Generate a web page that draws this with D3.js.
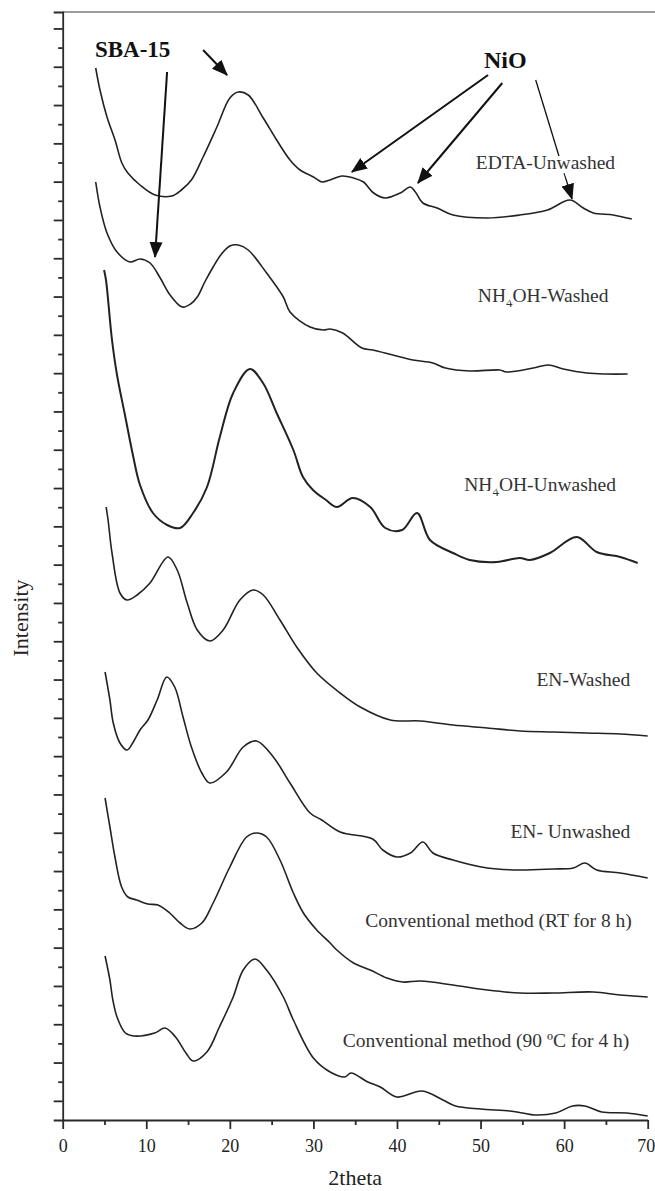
<!DOCTYPE html>
<meta charset="utf-8">
<style>

    body { margin: 0; background: #fff; }

    svg text {
        font-family: "Liberation Serif", "Times New Roman", serif;
        fill: #222;
    }

    .curves path {
        fill: none;
        stroke: #222;
        stroke-width: 1.6px;
        stroke-linejoin: round;
    }

    .axis path, .axis line {
        stroke: #2a2a2a;
        stroke-width: 1.8px;
    }

    .axis text { font-size: 18px; }

    .labels text {
        font-size: 19.5px;
        fill: #333;
        paint-order: stroke;
        stroke: #fff;
        stroke-width: 8px;
    }

    .notes line { stroke: #111; stroke-width: 2px; }
    .notes text { font-size: 23px; font-weight: bold; fill: #111; }

</style>
<svg width="655" height="1191"></svg>
<script src="https://cdn.jsdelivr.net/npm/d3@7"></script>
<script>

    // 2theta (deg) vs stacked intensity (a.u.)
    var edtaUnwashed = [[3.95,1052],[4.46,1030],[5.3,1003],[6.26,980],[7.08,957],[7.8,947],[9.25,935],
        [11.05,925],[13.05,924],[14.2,930],[15.4,940],[16.8,963],[18.45,993],[20.0,1022],[21.0,1028],
        [22.2,1025],[24.0,1002],[25.6,980],[27.2,960],[28.4,950],[30.0,943],[31.0,938],[32.0,940],
        [33.4,944],[34.8,942],[36.0,938],[37.2,927],[38.6,922],[40.4,927],[41.6,933],[42.2,928],
        [43.1,917],[44.8,912],[46.7,905],[50.8,902],[54.7,905],[58.0,910],[60.7,920],[62.3,912],
        [63.5,907],[65.9,905],[68.1,901]];

    var nh4ohWashed = [[3.95,938],[4.46,913],[5.3,887],[6.5,868],[8.05,858],[9.25,861],[10.45,857],
        [11.6,843],[12.85,825],[14.3,813],[15.3,816],[16.1,823],[17.0,838],[18.0,853],[19.0,866],
        [20.0,874],[21.0,875],[22.2,870],[24.4,847],[26.4,823],[27.2,808],[29.6,793],[31.2,790],
        [32.0,791],[33.5,787],[35.8,772],[37.1,770],[39.5,765],[41.9,760],[44.3,757],[45.8,752],
        [48.7,749],[52.3,750],[53.1,748],[56.3,752],[58.1,755],[59.9,751],[62.7,747],[65.1,746],
        [67.6,746]];

    var nh4ohUnwashed = [[4.95,850],[5.18,840],[5.9,780],[6.5,745],[7.45,705],[8.4,665],[9.25,635],
        [10.8,607],[12.5,595],[14.04,592],[15.6,607],[17.27,633],[18.8,683],[20.4,727],[22.4,751],
        [23.97,737],[25.6,707],[27.6,670],[28.75,643],[29.95,630],[31.5,620],[32.8,613],[34.7,622],
        [36.8,613],[38.6,592],[40.6,590],[42.4,607],[43.95,580],[46.7,567],[48.7,560],[51.95,558],
        [54.7,562],[55.9,560],[58.3,567],[61.5,583],[63.9,568],[66.7,563],[68.8,557]];

    var enWashed = [[5.2,613],[5.43,600],[5.9,567],[6.85,527],[7.7,520],[8.9,525],[10.45,537],
        [12.6,563],[13.7,550],[14.9,517],[16.1,490],[17.6,479],[19.2,490],[21.2,520],[22.8,530],
        [24.0,525],[26.0,500],[28.0,473],[30.4,447],[33.2,427],[35.6,413],[39.2,400],[42.8,399],
        [46.7,395],[50.8,392],[54.7,389],[58.7,388],[62.7,387],[66.7,386],[70.0,384]];

    var enUnwashed = [[5.07,448],[5.65,420],[6.05,397],[6.85,377],[7.7,370],[8.45,378],[9.25,390],
        [10.2,400],[11.3,420],[12.45,443],[13.4,433],[14.4,403],[15.4,373],[16.65,347],[17.6,337],
        [19.6,348],[21.6,373],[23.2,379],[25.2,363],[27.2,337],[29.6,307],[31.0,300],[33.2,288],
        [37.1,281],[38.3,270],[40.0,263],[41.6,267],[43.1,278],[44.3,267],[46.7,260],[50.8,252],
        [54.7,250],[58.7,251],[61.1,252],[62.5,257],[63.9,250],[66.7,247],[70.0,242]];

    var convRT = [[5.07,322],[5.65,293],[6.25,263],[7.05,233],[7.8,223],[8.85,220],[10.2,216],
        [11.4,215],[12.8,207],[14.05,197],[15.2,191],[16.65,197],[18.0,217],[20.0,253],[22.0,283],
        [23.2,287],[24.4,283],[26.0,260],[27.6,227],[28.8,207],[30.4,190],[32.0,177],[32.8,170],
        [34.8,157],[36.8,150],[38.8,142],[40.7,138],[42.8,139],[46.7,135],[50.8,130],[54.7,127],
        [58.7,127],[63.5,128],[66.7,125],[70.0,123]];

    var conv90 = [[5.07,164],[5.65,140],[6.0,120],[6.5,103],[7.5,87],[8.5,84],[11.0,87],[12.25,92],
        [13.5,83],[14.75,67],[15.6,59],[17.25,68],[18.75,93],[20.4,123],[21.6,150],[23.0,161],
        [24.4,150],[26.4,123],[27.6,100],[30.0,62],[32.0,48],[33.75,43],[34.5,47],[36.5,38],
        [38.0,33],[40.0,23],[43.0,29],[45.5,20],[47.0,14],[50.0,11],[53.5,9],[55.0,7],[56.5,5],
        [59.0,7],[61.0,14],[62.5,14],[64.5,8],[67.5,7],[70.0,4]];

    var seriesData = [edtaUnwashed, nh4ohWashed, nh4ohUnwashed, enWashed, enUnwashed, convRT, conv90];

    // label text, split as [before subscript, subscript, after]
    var seriesLabels = [
        ["EDTA-Unwashed", "", ""],
        ["NH", "4", "OH-Washed"],
        ["NH", "4", "OH-Unwashed"],
        ["EN-Washed", "", ""],
        ["EN- Unwashed", "", ""],
        ["Conventional method (RT for 8 h)", "", ""],
        ["Conventional method (90 \u00baC for 4 h)", "", ""]
    ];
    // right end of each label, in [2theta, intensity]
    var labelAnchors = [[66.1, 951], [65.3, 818], [66.2, 629], [67.9, 434], [67.9, 282], [68.1, 193], [67.8, 73]];

    // annotation arrows [from, to] in [2theta, intensity]
    var sbaArrows = [[[12.49, 1048], [11.05, 863]], [[16.8, 1070], [19.67, 1045]]];
    var nioArrows = [[[50.9, 1045], [34.6, 948]], [[52.6, 1037], [42.5, 937]], [[56.6, 1040], [60.95, 921]]];

    var xTicks = d3.range(0, 71, 5);
    var yTickStep = 19.15;

    var svg = d3.select("svg"),
        width = +svg.attr("width"),
        height = +svg.attr("height");

    var margin = {top: 12, left: 62.7, bottom: 71};

    var x = d3.scaleLinear().domain([0, 70]).range([margin.left, 647.7]);
    var y = d3.scaleLinear().domain([0, 1108]).range([height - margin.bottom, margin.top]);

    var defs = svg.append("defs");
    defs.append("marker")
        .attr("id", "head")
        .attr("viewBox", "0 -7 16 14")
        .attr("refX", 15)
        .attr("refY", 0)
        .attr("markerUnits", "userSpaceOnUse")
        .attr("markerWidth", 16)
        .attr("markerHeight", 14)
        .attr("orient", "auto")
        .append("path")
        .attr("d", "M0,-6.5L16,0L0,6.5Z")
        .style("fill", "#111");

    // top frame line
    svg.append("line")
        .attr("x1", x(0)).attr("x2", width)
        .attr("y1", y(1108)).attr("y2", y(1108))
        .style("stroke", "#7a7a7a")
        .style("stroke-width", "1.6px");

    // x axis
    var xAxis = svg.append("g")
        .attr("class", "axis")
        .attr("transform", "translate(0," + y(0) + ")")
        .call(d3.axisBottom(x)
            .tickValues(xTicks)
            .tickSize(9)
            .tickSizeOuter(0)
            .tickPadding(10)
            .tickFormat(function (d) { return d % 10 === 0 ? d : ""; }));
    xAxis.selectAll(".tick line")
        .attr("y2", function (d) { return d % 10 === 0 ? 9 : 5; });
    // last label sits against the page edge
    xAxis.selectAll(".tick text")
        .attr("x", function (d) { return d === 70 ? -2 : 0; });

    // y axis, unlabeled ticks
    var yVals = d3.range(1, 58).map(function (k) { return k * yTickStep; });
    var yAxis = svg.append("g")
        .attr("class", "axis")
        .attr("transform", "translate(" + x(0) + ",0)")
        .call(d3.axisLeft(y)
            .tickValues(yVals)
            .tickSizeOuter(0)
            .tickSize(9)
            .tickFormat(""));
    yAxis.selectAll(".tick line")
        .attr("x2", function (d, i) { return i % 2 === 0 ? -9 : -4.5; });

    // curves
    var line = d3.line()
        .x(function (d) { return x(d[0]); })
        .y(function (d) { return y(d[1]); })
        .curve(d3.curveCatmullRom.alpha(0.5));

    svg.append("g")
        .attr("class", "curves")
        .selectAll("path")
        .data(seriesData)
        .enter().append("path")
        .attr("d", line)
        .style("stroke-width", function (d, i) { return i === 2 ? "2px" : null; });

    // annotations
    var notes = svg.append("g").attr("class", "notes");

    notes.selectAll("line")
        .data(sbaArrows.concat(nioArrows))
        .enter().append("line")
        .attr("x1", function (d) { return x(d[0][0]); })
        .attr("y1", function (d) { return y(d[0][1]); })
        .attr("x2", function (d) { return x(d[1][0]); })
        .attr("y2", function (d) { return y(d[1][1]); })
        .style("stroke-width", function (d, i) { return i === 4 ? "1.3px" : null; })
        .attr("marker-end", "url(#head)");

    notes.append("text")
        .attr("x", x(3.86)).attr("y", y(1063))
        .text("SBA-15");

    notes.append("text")
        .attr("x", x(50.4)).attr("y", y(1052))
        .style("font-size", "24px")
        .text("NiO");

    // series labels
    var labels = svg.append("g")
        .attr("class", "labels")
        .selectAll("text")
        .data(seriesLabels)
        .enter().append("text")
        .attr("text-anchor", "end")
        .attr("x", function (d, i) { return x(labelAnchors[i][0]); })
        .attr("y", function (d, i) { return y(labelAnchors[i][1]); });

    labels.append("tspan").text(function (d) { return d[0]; });
    labels.filter(function (d) { return d[1] !== ""; })
        .each(function (d) {
            var t = d3.select(this);
            t.append("tspan").attr("dy", 5).style("font-size", "13px").text(d[1]);
            t.append("tspan").attr("dy", -5).text(d[2]);
        });

    // axis titles
    svg.append("text")
        .attr("x", (x(0) + x(70)) / 2)
        .attr("y", 1185)
        .attr("text-anchor", "middle")
        .style("font-size", "22px")
        .text("2theta");

    svg.append("text")
        .attr("transform", "translate(28,618) rotate(-90)")
        .attr("text-anchor", "middle")
        .style("font-size", "22px")
        .text("Intensity");

</script>
